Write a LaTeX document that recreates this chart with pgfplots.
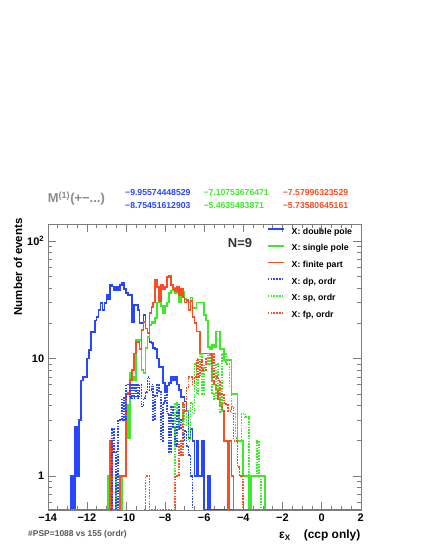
\documentclass[border=0pt]{standalone}
\usepackage{fontspec}
\setmainfont{Liberation Sans}
\usepackage{pgfplots}
\pgfplotsset{compat=1.18}
\definecolor{cBlue}{RGB}{40,70,255}
\definecolor{cGreen}{RGB}{60,235,40}
\definecolor{cRed}{RGB}{255,75,35}
\definecolor{cFrame}{RGB}{125,125,125}

\begin{document}
\begin{tikzpicture}
\useasboundingbox (0bp,0bp) rectangle (424bp,548bp);
\begin{axis}[
    at={(47.7bp,38bp)}, anchor=south west,
    scale only axis, width=313bp, height=286bp,
    xmin=-14, xmax=2,
    ymode=log, ymin=0.514, ymax=139.5,
    xtick={-14,-12,...,2},
    xticklabels={−14,−12,−10,−8,−6,−4,−2,0,2},
    minor x tick num=3,
    ytick={1,10,100}, yticklabels={1,10,10\textsuperscript{2}},
    minor ytick={0.6,0.7,0.8,0.9,2,3,4,5,6,7,8,9,20,30,40,50,60,70,80,90},
    tick align=inside,
    major tick length=8bp, minor tick length=4bp,
    axis line style={cFrame}, every tick/.style={cFrame},
    tick label style={font=\bfseries\fontsize{11}{13}\selectfont},
    legend style={at={(0.700,0.988)}, anchor=north west, draw=none, fill=none,
        font=\bfseries\fontsize{8.8}{10}\selectfont, row sep=8.5bp, inner sep=0pt,
        nodes={inner sep=0pt, text height=6.4bp, text depth=1.8bp},
        /tikz/every odd column/.append style={column sep=7bp}},
    legend image code/.code={\draw[#1] (0bp,2.5bp) -- (16bp,2.5bp);},
    legend cell align=left,
]
% X: double pole
\addplot[const plot mark left, color=cBlue, line width=1.7bp] coordinates {
(-14,0.514) (-12.8,1) (-12.7,0.514) (-12.6,2.6) (-12.5,1) (-12.4,3) (-12.3,6.5)
(-12.2,7) (-12.1,7) (-12.0,10) (-11.9,11.8) (-11.8,16.8) (-11.7,16.8) (-11.6,21)
(-11.5,22.6) (-11.4,25.8) (-11.3,29.8) (-11.2,25.8) (-11.1,29.8) (-11.0,34.6)
(-10.9,32) (-10.8,42) (-10.7,41) (-10.6,38) (-10.5,41) (-10.4,38) (-10.3,42)
(-10.2,44) (-10.1,39) (-10.0,36) (-9.9,34.6) (-9.8,34.6) (-9.7,20.5) (-9.6,28.5)
(-9.5,28.5) (-9.4,25.8) (-9.3,20) (-9.2,20) (-9.1,23.4) (-9.0,18) (-8.9,16.5)
(-8.8,13.8) (-8.7,13.5) (-8.6,12.3) (-8.5,12) (-8.4,10) (-8.3,8.5) (-8.2,8.5)
(-8.1,6.2) (-8.0,5.2) (-7.9,5.9) (-7.8,6.2) (-7.7,7) (-7.6,6.6) (-7.5,7) (-7.4,6)
(-7.3,5.4) (-7.2,4.7) (-7.1,4.7) (-7.0,4.3) (-6.9,3.6) (-6.8,2.1) (-6.7,2.5)
(-6.6,2.0) (-6.5,1) (-6.4,2) (-6.3,1) (-6.2,1) (-6.1,2) (-6.0,0.514) (-5.8,1)
(-5.7,0.514) (2,0.514)
};
% X: single pole
\addplot[const plot mark left, color=cGreen, line width=1.7bp] coordinates {
(-14,0.514) (-10.9,1) (-10.8,0.514) (-10.5,1) (-10.3,0.514) (-10.2,1) (-10.0,4)
(-9.9,2.1) (-9.8,7.5) (-9.7,7) (-9.6,6.6) (-9.5,14.4) (-9.4,14) (-9.3,14.4)
(-9.2,8) (-9.1,7.5) (-9.0,12.3) (-8.9,15.2) (-8.8,19.3) (-8.7,20.5) (-8.6,20)
(-8.5,22) (-8.4,30) (-8.3,30) (-8.2,28) (-8.1,24.5) (-8.0,28) (-7.9,30) (-7.8,36)
(-7.7,38) (-7.6,40) (-7.5,36) (-7.4,40) (-7.3,30) (-7.2,38) (-7.1,37) (-7.0,32)
(-6.9,31) (-6.8,30) (-6.7,33) (-6.6,27) (-6.5,27) (-6.4,30) (-6.3,30) (-6.2,30)
(-6.1,30) (-6.0,23.4) (-5.9,21) (-5.8,12.5) (-5.7,12) (-5.6,13) (-5.5,12.5)
(-5.4,17) (-5.3,17) (-5.2,12) (-5.1,12) (-5.0,9.7) (-4.9,9.7) (-4.8,9.7) (-4.7,9.7)
(-4.6,5) (-4.5,5) (-4.4,5) (-4.3,2) (-4.2,2) (-4.1,2) (-4.0,1) (-3.7,0.514)
(-3.6,1) (-2.9,0.514) (2,0.514)
};
% X: finite part
\addplot[const plot mark left, color=cRed, line width=1.7bp] coordinates {
(-14,0.514) (-10.8,2) (-10.7,0.514) (-10.3,1) (-10.0,5) (-9.9,5.1) (-9.8,6.6)
(-9.7,8) (-9.6,11) (-9.5,13.8) (-9.4,13.8) (-9.3,12) (-9.2,17.5) (-9.1,20.5)
(-9.0,18) (-8.9,16.5) (-8.8,24.5) (-8.7,27.5) (-8.6,30) (-8.5,46.5) (-8.4,40.6)
(-8.3,31) (-8.2,42) (-8.1,39) (-8.0,40.6) (-7.9,49.5) (-7.8,51) (-7.7,42) (-7.6,39)
(-7.5,37.6) (-7.4,40.6) (-7.3,34.6) (-7.2,39) (-7.1,33) (-7.0,30) (-6.9,31.5)
(-6.8,25.8) (-6.7,31) (-6.6,22.6) (-6.5,20) (-6.4,17) (-6.3,17) (-6.2,11)
(-6.1,11) (-6.0,11) (-5.9,11) (-5.8,11) (-5.7,11) (-5.6,6.5) (-5.5,6) (-5.4,5.5)
(-5.3,4.5) (-5.2,4) (-5.1,3.6) (-5.0,2) (-4.9,2) (-4.8,0.514) (-4.7,2) (-4.6,1)
(-4.5,0.514) (2,0.514)
};
% X: dp, ordr
\addplot[const plot mark left, color=cBlue, line width=1.7bp, dash pattern=on 1.6bp off 1.2bp] coordinates {
(-10.8,0.514) (-10.7,2.5) (-10.6,1.6) (-10.5,0.514) (-10.4,3) (-10.3,3) (-10.2,4.6)
(-10.1,3) (-10.0,6) (-9.9,6) (-9.8,4.6) (-9.7,6) (-9.6,4.6) (-9.5,6) (-9.4,4.6)
(-9.3,6) (-9.2,3.9) (-9.1,4.6) (-9.0,5.2) (-8.9,7) (-8.8,5.4) (-8.7,6) (-8.6,3.0)
(-8.5,4.8) (-8.4,6) (-8.3,5.2) (-8.2,2) (-8.1,4.2) (-8.0,5.2) (-7.9,3.4) (-7.8,1.6)
(-7.7,3.9) (-7.6,2.6) (-7.5,1.8) (-7.4,4.2) (-7.3,2.5) (-7.2,3) (-7.1,2) (-7.0,2.4)
(-6.9,1.8) (-6.8,1.5) (-6.7,1) (-6.6,0.514)
};
% X: sp, ordr
\addplot[const plot mark left, color=cGreen, line width=1.7bp, dash pattern=on 1.6bp off 1.2bp] coordinates {
(-9.1,0.514) (-9.0,1) (-8.8,0.514) (-7.5,4.2) (-7.4,3.6) (-7.3,2.7) (-7.2,2.7)
(-7.1,4) (-7.0,2.7) (-6.9,3.6) (-6.8,2) (-6.7,4.2) (-6.6,3.4) (-6.5,9) (-6.4,5)
(-6.3,9.2) (-6.2,11) (-6.1,5) (-6.0,9) (-5.9,9) (-5.8,11) (-5.7,9) (-5.6,5)
(-5.5,4.5) (-5.4,9) (-5.3,5.5) (-5.2,3.5) (-5.1,11) (-5.0,11) (-4.9,9) (-4.8,9)
(-4.7,5.7) (-4.6,3.4) (-4.5,3.4) (-4.4,2.1) (-4.3,2) (-4.2,2) (-4.1,3.4) (-4.0,3.4)
(-3.9,3.2) (-3.8,3.2) (-3.7,1) (-3.3,2) (-3.2,1) (-3.1,0.514)
};
% X: fp, ordr
\addplot[const plot mark left, color=cRed, line width=1.7bp, dash pattern=on 1.6bp off 1.2bp] coordinates {
(-9.1,0.514) (-9.0,1) (-8.8,0.514) (-7.5,1) (-7.3,2) (-7.2,1.5) (-7.1,4.2)
(-7.0,3.6) (-6.9,5.7) (-6.8,7) (-6.7,7) (-6.6,6) (-6.5,7) (-6.4,10) (-6.3,7)
(-6.2,9.7) (-6.1,8) (-6.0,8) (-5.9,10) (-5.8,10) (-5.7,11) (-5.6,11) (-5.5,7)
(-5.4,7) (-5.3,6.5) (-5.2,5) (-5.1,5) (-5.0,4.2) (-4.9,4) (-4.8,3.6) (-4.7,3.6)
(-4.6,3.9) (-4.5,2) (-4.4,2) (-4.3,1.2) (-4.2,1) (-4.0,0.514)
};
\legend{X: double pole, X: single pole, X: finite part, {X: dp, ordr}, {X: sp, ordr}, {X: fp, ordr}}
\end{axis}
\node[anchor=base west, inner sep=0pt, text=black!45, font=\bfseries\fontsize{13}{15}\selectfont] at (47.7bp,345bp) {M\textsuperscript{(1)}(+−...)};
\begin{scope}[every node/.style={anchor=base west, inner sep=0pt, font=\bfseries\fontsize{8.7}{10}\selectfont}]
\node[text=cBlue] at (125bp,352bp) {−9.95574448529};
\node[text=cBlue] at (125bp,339bp) {−8.75451612903};
\node[text=cGreen] at (203.3bp,352bp) {−7.10753676471};
\node[text=cGreen] at (203.3bp,339bp) {−5.4635483871};
\node[text=cRed] at (282.7bp,352bp) {−7.57996323529};
\node[text=cRed] at (282.7bp,339bp) {−5.73580645161};
\end{scope}
\node[text=black!80, font=\bfseries\fontsize{13}{15}\selectfont] at (240bp,305bp) {N=9};
\node[rotate=90, font=\bfseries\fontsize{11.5}{13}\selectfont] at (18bp,281bp) {Number of events};
\node[anchor=base east, inner sep=0pt, font=\bfseries\fontsize{12}{14}\selectfont] at (360.5bp,9.5bp) {ε\textsubscript{X}\hspace{1.1em}(ccp only)};
\node[anchor=base west, inner sep=0pt, text=black!65, font=\bfseries\fontsize{8.5}{10}\selectfont] at (28bp,11.3bp) {\#PSP=1088 vs 155 (ordr)};
\end{tikzpicture}
\end{document}
